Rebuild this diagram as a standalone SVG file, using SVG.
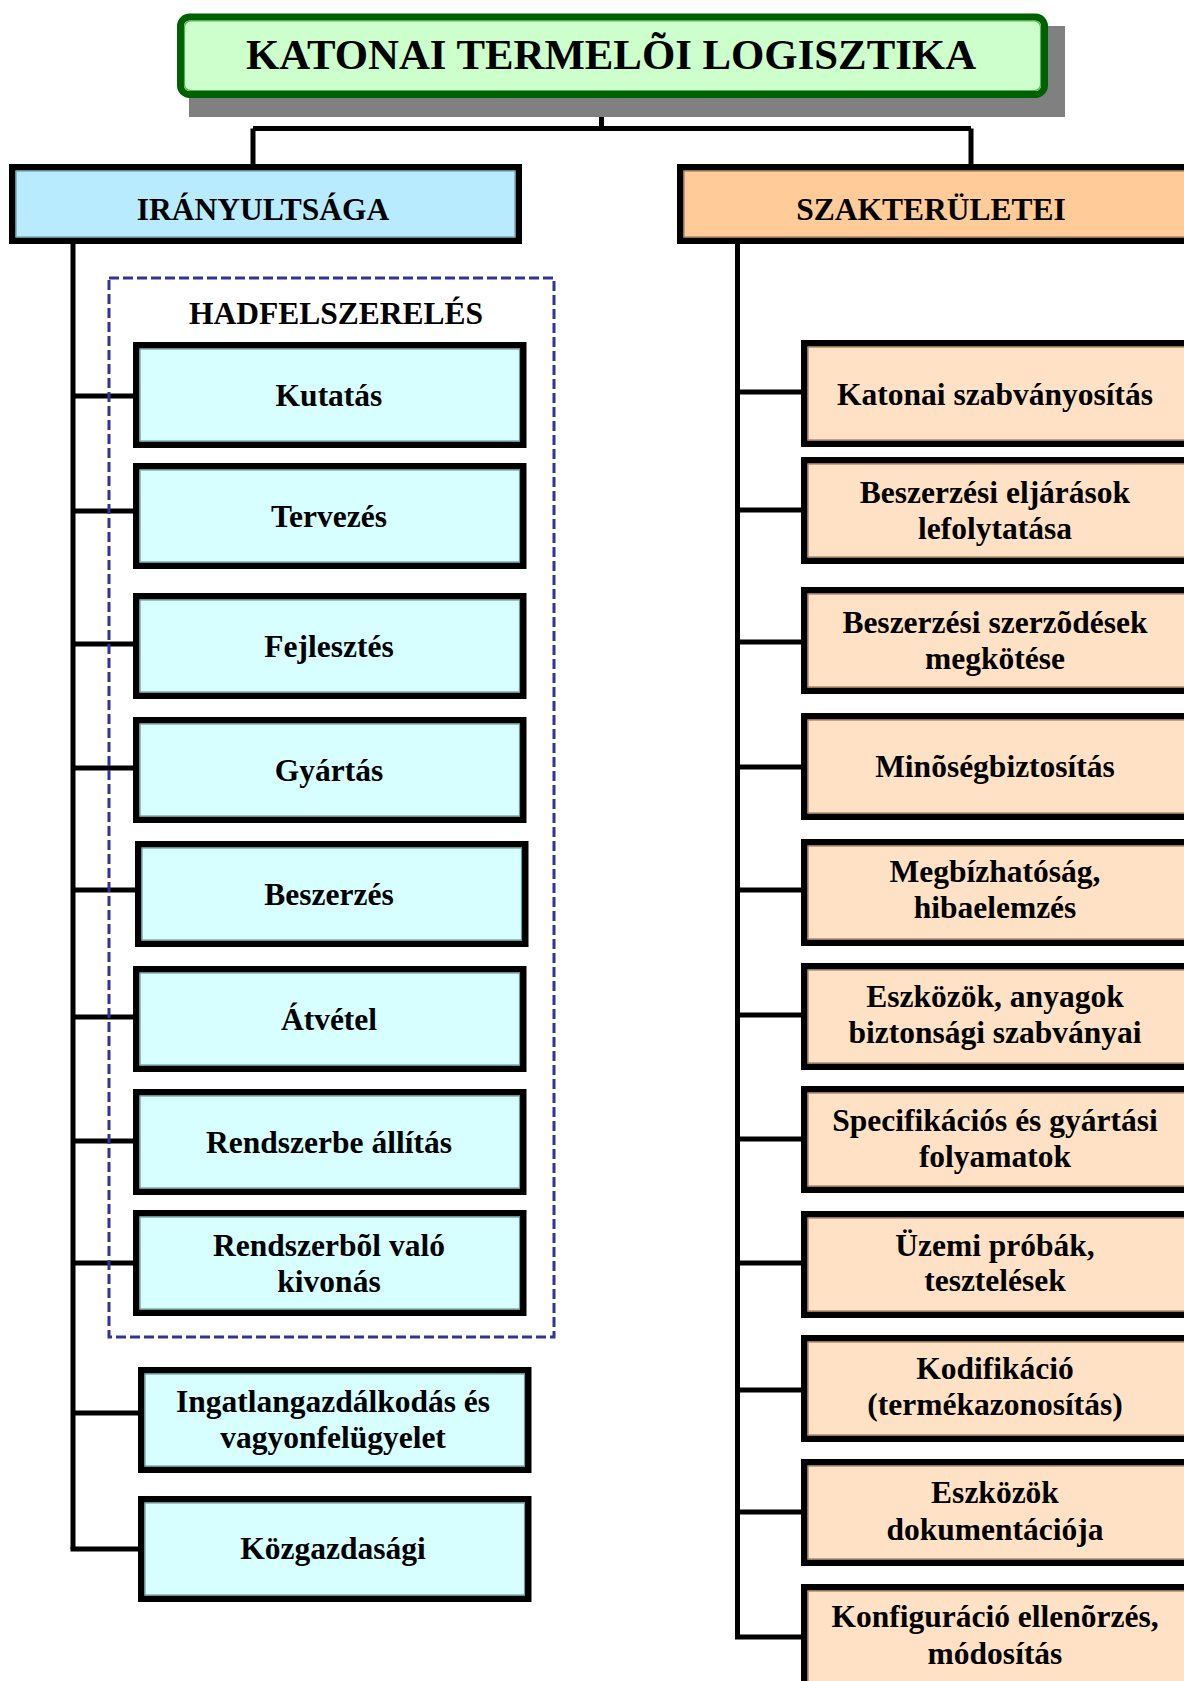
<svg xmlns="http://www.w3.org/2000/svg" width="1184" height="1681" viewBox="0 0 1184 1681">
  <style>
    text { font-family: "Liberation Serif", "Times New Roman", serif; font-weight: bold; fill: #000; text-anchor: middle; }
    .t { font-size: 31.5px; }
    .title { font-size: 42.8px; }
    .box { stroke: #000; stroke-width: 6.5; }
    .cyan { fill: #D7FFFF; }
    .peach { fill: #FFE2C6; }
    .edge-c { fill: none; stroke: #6E9A9A; stroke-width: 1.2; }
    .edge-p { fill: none; stroke: #9A7B5C; stroke-width: 1.2; }
    .wire { fill: none; stroke: #000; stroke-width: 5; }
  </style>

  <rect width="1184" height="1681" fill="#FFFFFF"/>

  <!-- connectors -->
  <g id="connectors" class="wire">
    <path d="M601.5 116 V128.5 M253 128.5 H971 M253 128.5 V166 M971 128.5 V166"/>
    <!-- left spine and branches -->
    <path d="M73 242 V1549"/>
    <path d="M73 396 H136 M73 511 H136 M73 644 H136 M73 768 H136 M73 890 H136 M73 1017 H136 M73 1141 H136 M73 1263 H136 M73 1413 H141 M70.5 1549 H141"/>
    <!-- right spine and branches -->
    <path d="M737.5 242 V1637"/>
    <path d="M737.5 392 H804 M737.5 510 H804 M737.5 642 H804 M737.5 767 H804 M737.5 890 H804 M737.5 1015 H804 M737.5 1139 H804 M737.5 1263 H804 M737.5 1390 H804 M737.5 1512 H804 M735 1637 H804"/>
  </g>

  <!-- title -->
  <g id="root">
    <rect x="189" y="26" width="876" height="91" fill="#808080"/>
    <rect x="180.5" y="17" width="864" height="77.5" rx="9" fill="#CCFFCC" stroke="#006100" stroke-width="7"/>
    <rect x="184.5" y="21" width="856" height="69.5" rx="6" fill="none" stroke="#55B055" stroke-width="1.2"/>
    <text class="title" x="611" y="69">KATONAI TERMELÕI LOGISZTIKA</text>
  </g>

  <!-- branch headers -->
  <g id="iranyultsaga">
    <rect class="box" x="12.25" y="167.25" width="506.5" height="73.5" fill="#B9EBFF"/>
    <rect class="edge-c" x="16" y="171" width="499" height="66"/>
    <text class="t" x="263" y="220">IRÁNYULTSÁGA</text>
  </g>
  <g id="szakteruletei">
    <rect class="box" x="680.25" y="167.25" width="520" height="73.5" fill="#FFCC99"/>
    <rect class="edge-p" x="684" y="171" width="520" height="66"/>
    <text class="t" x="931" y="220">SZAKTERÜLETEI</text>
  </g>

  <!-- hadfelszerelés group frame -->
  <g id="hadfelszereles">
    <rect x="109" y="278" width="445" height="1059" fill="none" stroke="#333399" stroke-width="3" stroke-dasharray="10 4"/>
    <text class="t" x="336" y="324">HADFELSZERELÉS</text>
  </g>

  <!-- left column -->
  <g id="kutatas">
    <rect class="box cyan" x="136.25" y="345.25" width="387" height="99.5"/>
    <rect class="edge-c" x="140" y="349" width="379.5" height="92"/>
    <text class="t" x="329" y="406">Kutatás</text>
  </g>
  <g id="tervezes">
    <rect class="box cyan" x="136.25" y="466.25" width="387" height="99.5"/>
    <rect class="edge-c" x="140" y="470" width="379.5" height="92"/>
    <text class="t" x="329" y="527">Tervezés</text>
  </g>
  <g id="fejlesztes">
    <rect class="box cyan" x="136.25" y="596.25" width="387" height="99.5"/>
    <rect class="edge-c" x="140" y="600" width="379.5" height="92"/>
    <text class="t" x="329" y="657">Fejlesztés</text>
  </g>
  <g id="gyartas">
    <rect class="box cyan" x="136.25" y="720.25" width="387" height="99.5"/>
    <rect class="edge-c" x="140" y="724" width="379.5" height="92"/>
    <text class="t" x="329" y="781">Gyártás</text>
  </g>
  <g id="beszerzes">
    <rect class="box cyan" x="138.25" y="844.25" width="387" height="99.5"/>
    <rect class="edge-c" x="142" y="848" width="379.5" height="92"/>
    <text class="t" x="329" y="905">Beszerzés</text>
  </g>
  <g id="atvetel">
    <rect class="box cyan" x="136.25" y="969.25" width="387" height="99.5"/>
    <rect class="edge-c" x="140" y="973" width="379.5" height="92"/>
    <text class="t" x="329" y="1030">Átvétel</text>
  </g>
  <g id="rendszerbe-allitas">
    <rect class="box cyan" x="136.25" y="1092.25" width="387" height="99.5"/>
    <rect class="edge-c" x="140" y="1096" width="379.5" height="92"/>
    <text class="t" x="329" y="1153">Rendszerbe állítás</text>
  </g>
  <g id="rendszerbol-kivonas">
    <rect class="box cyan" x="136.25" y="1213.25" width="387" height="99.5"/>
    <rect class="edge-c" x="140" y="1217" width="379.5" height="92"/>
    <text class="t" x="329" y="1256">Rendszerbõl való</text>
    <text class="t" x="329" y="1292">kivonás</text>
  </g>
  <g id="ingatlangazdalkodas">
    <rect class="box cyan" x="141.25" y="1370.25" width="387" height="99.5"/>
    <rect class="edge-c" x="145" y="1374" width="379.5" height="92"/>
    <text class="t" x="333" y="1412">Ingatlangazdálkodás és</text>
    <text class="t" x="333" y="1448">vagyonfelügyelet</text>
  </g>
  <g id="kozgazdasagi">
    <rect class="box cyan" x="141.25" y="1499.25" width="387" height="99.5"/>
    <rect class="edge-c" x="145" y="1503" width="379.5" height="92"/>
    <text class="t" x="333" y="1559">Közgazdasági</text>
  </g>

  <!-- right column -->
  <g id="szabvanyositas">
    <rect class="box peach" x="804.25" y="343.25" width="400" height="100.5"/>
    <rect class="edge-p" x="808" y="347" width="400" height="93"/>
    <text class="t" x="995" y="405">Katonai szabványosítás</text>
  </g>
  <g id="beszerzesi-eljarasok">
    <rect class="box peach" x="804.25" y="460.25" width="400" height="100.5"/>
    <rect class="edge-p" x="808" y="464" width="400" height="93"/>
    <text class="t" x="995" y="503">Beszerzési eljárások</text>
    <text class="t" x="995" y="539">lefolytatása</text>
  </g>
  <g id="beszerzesi-szerzodesek">
    <rect class="box peach" x="804.25" y="590.25" width="400" height="100.5"/>
    <rect class="edge-p" x="808" y="594" width="400" height="93"/>
    <text class="t" x="995" y="633">Beszerzési szerzõdések</text>
    <text class="t" x="995" y="669">megkötése</text>
  </g>
  <g id="minosegbiztositas">
    <rect class="box peach" x="804.25" y="716.25" width="400" height="100.5"/>
    <rect class="edge-p" x="808" y="720" width="400" height="93"/>
    <text class="t" x="995" y="777">Minõségbiztosítás</text>
  </g>
  <g id="megbizhatosag">
    <rect class="box peach" x="804.25" y="842.25" width="400" height="100.5"/>
    <rect class="edge-p" x="808" y="846" width="400" height="93"/>
    <text class="t" x="995" y="882">Megbízhatóság,</text>
    <text class="t" x="995" y="918">hibaelemzés</text>
  </g>
  <g id="biztonsagi-szabvanyok">
    <rect class="box peach" x="804.25" y="966.25" width="400" height="100.5"/>
    <rect class="edge-p" x="808" y="970" width="400" height="93"/>
    <text class="t" x="995" y="1007">Eszközök, anyagok</text>
    <text class="t" x="995" y="1043">biztonsági szabványai</text>
  </g>
  <g id="specifikacio">
    <rect class="box peach" x="804.25" y="1089.25" width="400" height="100.5"/>
    <rect class="edge-p" x="808" y="1093" width="400" height="93"/>
    <text class="t" x="995" y="1131">Specifikációs és gyártási</text>
    <text class="t" x="995" y="1167">folyamatok</text>
  </g>
  <g id="uzemi-probak">
    <rect class="box peach" x="804.25" y="1214.25" width="400" height="100.5"/>
    <rect class="edge-p" x="808" y="1218" width="400" height="93"/>
    <text class="t" x="995" y="1256">Üzemi próbák,</text>
    <text class="t" x="995" y="1291">tesztelések</text>
  </g>
  <g id="kodifikacio">
    <rect class="box peach" x="804.25" y="1338.25" width="400" height="100.5"/>
    <rect class="edge-p" x="808" y="1342" width="400" height="93"/>
    <text class="t" x="995" y="1379">Kodifikáció</text>
    <text class="t" x="995" y="1415">(termékazonosítás)</text>
  </g>
  <g id="dokumentacio">
    <rect class="box peach" x="804.25" y="1462.25" width="400" height="100.5"/>
    <rect class="edge-p" x="808" y="1466" width="400" height="93"/>
    <text class="t" x="995" y="1503">Eszközök</text>
    <text class="t" x="995" y="1540">dokumentációja</text>
  </g>
  <g id="konfiguracio">
    <rect class="box peach" x="804.25" y="1587.25" width="400" height="120"/>
    <rect class="edge-p" x="808" y="1591" width="400" height="120"/>
    <text class="t" x="995" y="1627">Konfiguráció ellenõrzés,</text>
    <text class="t" x="995" y="1664">módosítás</text>
  </g>
</svg>
